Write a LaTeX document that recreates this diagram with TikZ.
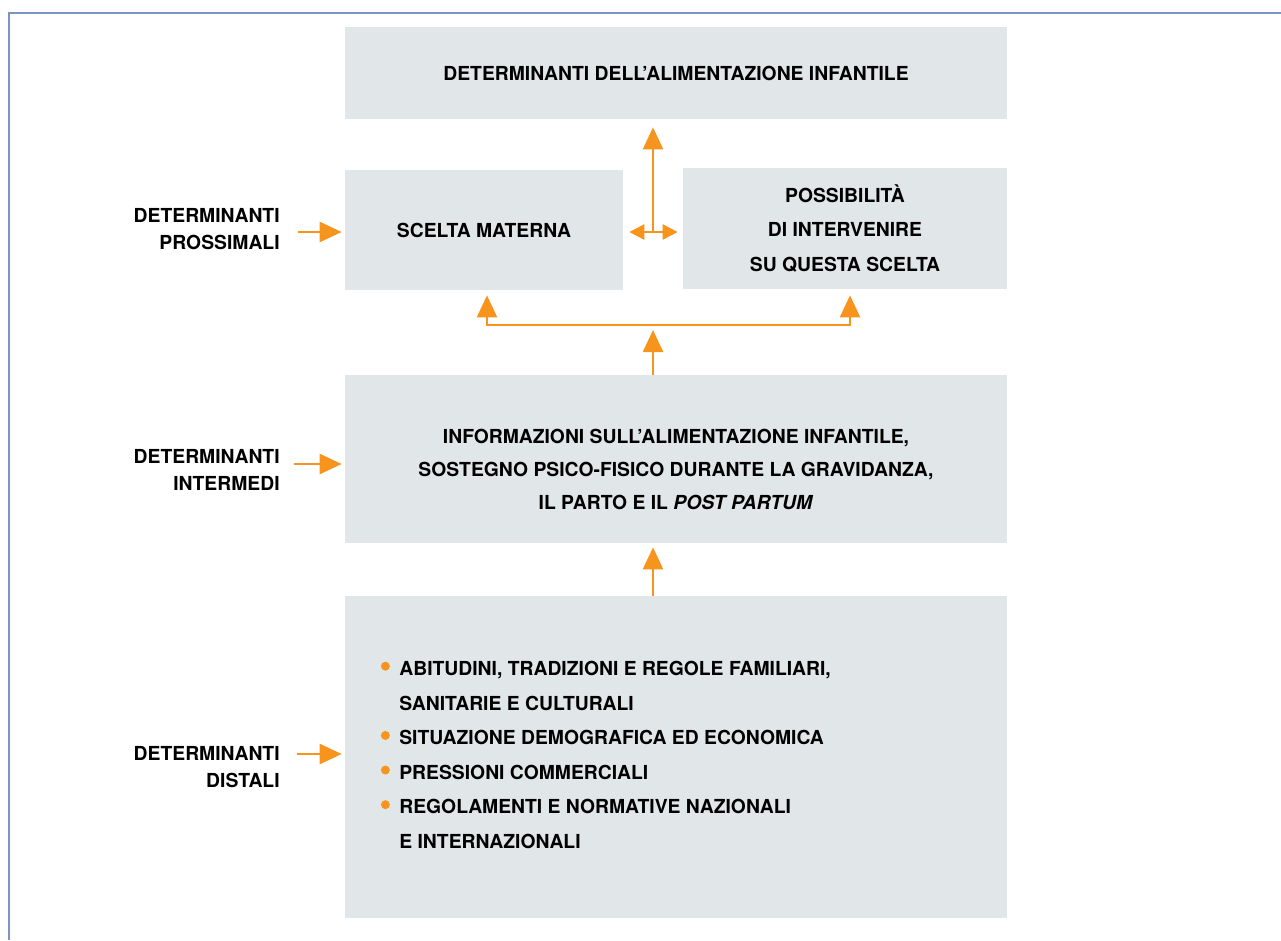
\documentclass[tikz,border=0pt]{standalone}
\usepackage{fontspec}
\setmainfont{TeX Gyre Heros}
\usetikzlibrary{arrows.meta, calc, positioning}

\definecolor{boxgrey}{HTML}{E1E6E9}
\definecolor{arrorange}{HTML}{F7941D}
\definecolor{frameblue}{HTML}{7F93C3}

\tikzset{
  box/.style={fill=boxgrey, inner sep=0pt},
  txt/.style={inner sep=0pt, align=center,
    font=\bfseries\fontsize{11}{19.5}\selectfont},
  side/.style={anchor=east, inner sep=0pt, align=right,
    font=\bfseries\fontsize{11}{15.4}\selectfont},
  arr/.style={arrorange, line width=1.4pt,
    -{Triangle[length=0.44cm,width=0.4cm]}},
  darr/.style={arrorange, line width=1.4pt,
    {Triangle[length=0.3cm,width=0.3cm]}-{Triangle[length=0.3cm,width=0.3cm]}},
}
% orange bullet hanging left of the item text
\newcommand{\obul}{\llap{\tikz[baseline=-5.3pt]\fill[arrorange] (0,0) circle (2.55pt);\hspace{5.4pt}}}

\begin{document}
\begin{tikzpicture}[x=0.02cm, y=-0.02cm]
\useasboundingbox (0,0) rectangle (1281,940);
% Frame, open at the bottom and on the right
\draw[frameblue, line width=1.1pt] (9,940) -- (9,13) -- (1281,13);
% Grey blocks
\node[box, txt, minimum width=13.24cm, minimum height=1.84cm] (alim) at (676,73)
  {DETERMINANTI DELL'ALIMENTAZIONE INFANTILE};
\node[box, txt, minimum width=5.56cm, minimum height=2.4cm] (scelta) at (484,230)
  {SCELTA MATERNA};
\node[box, txt, minimum width=6.48cm, minimum height=2.42cm] (possib) at (845,228.5)
  {POSSIBILITÀ\\DI INTERVENIRE\\SU QUESTA SCELTA};
\node[box, minimum width=13.24cm, minimum height=3.36cm] (info) at (676,459) {};
\node[txt, font=\bfseries\fontsize{11}{19}\selectfont] (infotxt) at (676,469.5)
  {INFORMAZIONI SULL'ALIMENTAZIONE INFANTILE,\\
   SOSTEGNO PSICO-FISICO DURANTE LA GRAVIDANZA,\\
   IL PARTO E IL \textit{POST PARTUM}};
\node[box, minimum width=13.24cm, minimum height=6.44cm] (distal) at (676,757) {};
\node[txt, align=left, anchor=west, font=\bfseries\fontsize{11}{19.7}\selectfont]
  (distlist) at (399,755)
  {\obul ABITUDINI, TRADIZIONI E REGOLE FAMILIARI,\\
   SANITARIE E CULTURALI\\
   \obul SITUAZIONE DEMOGRAFICA ED ECONOMICA\\
   \obul PRESSIONI COMMERCIALI\\
   \obul REGOLAMENTI E NORMATIVE NAZIONALI\\
   E INTERNAZIONALI};
% Labels on the left
\node[side] (lblprox) at (280,229.5) {DETERMINANTI\\PROSSIMALI};
\node[side] (lblinter) at (280,470) {DETERMINANTI\\INTERMEDI};
\node[side] (lbldist) at (280,767) {DETERMINANTI\\DISTALI};
% Free ends of the arrows
\coordinate (aprox) at (298,232);
\coordinate (ainter) at (294,464);
\coordinate (adist) at (297,754);
\coordinate (mid) at (653,232);
\coordinate (fork) at (653,325);
\coordinate (lftup) at (487,325);
\coordinate (rgtup) at (850,325);
% Arrows from the labels
\draw[arr, shorten >=0.06cm] (aprox) -- (aprox -| scelta.west);
\draw[arr, shorten >=0.06cm] (ainter) -- (ainter -| info.west);
\draw[arr, shorten >=0.06cm] (adist) -- (adist -| distal.west);
% Between the two upper blocks and up to the title
\draw[darr, shorten <=0.12cm, shorten >=0.1cm] (mid -| scelta.east) -- (mid -| possib.west);
\draw[arr, shorten >=0.16cm] (mid) -- (alim.south -| mid);
% Fork up to both upper blocks
\draw[arr, shorten >=0.1cm] (info.north -| fork) -- (fork);
\draw[darr, {Triangle[length=0.44cm,width=0.4cm]}-{Triangle[length=0.44cm,width=0.4cm]},
  shorten <=0.1cm, shorten >=0.12cm]
  (lftup |- scelta.south) -- (lftup) -- (rgtup) -- (rgtup |- possib.south);
% From the distal block to the intermediate one
\draw[arr, shorten >=0.08cm] (distal.north -| fork) -- (info.south -| fork);
\end{tikzpicture}
\end{document}
